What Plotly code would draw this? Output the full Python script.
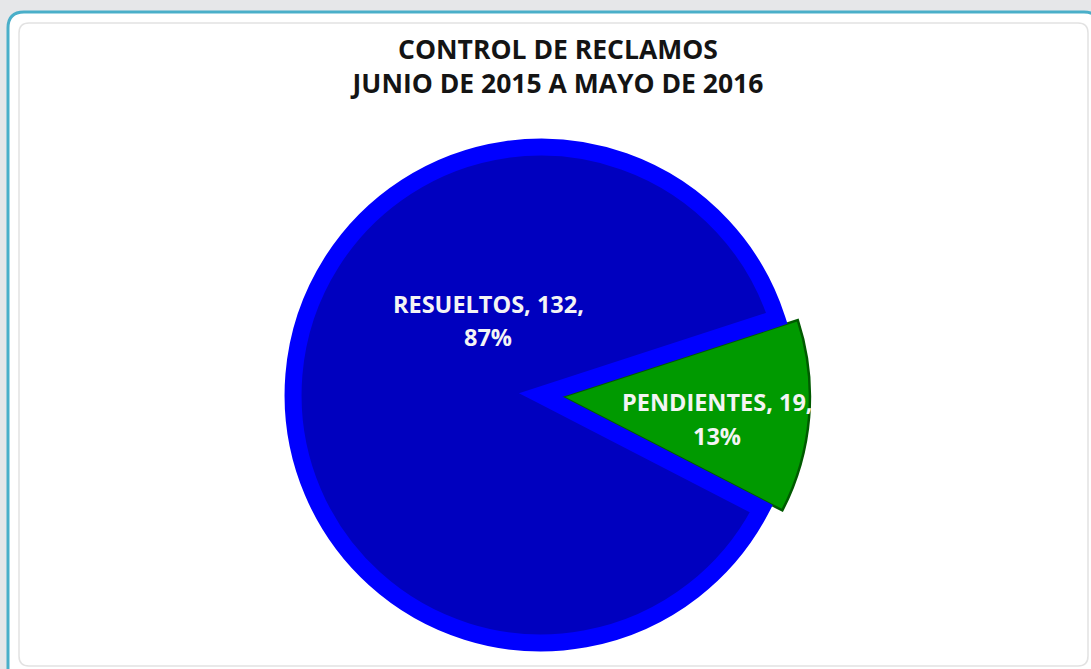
import plotly.graph_objects as go

# ---- data ----
labels = ["PENDIENTES", "RESUELTOS"]
values = [19, 132]
fill_colors = ["#009A00", "#0000BF"]
line_colors = ["#005A00", "#0000FF"]
title_lines = ["CONTROL DE RECLAMOS", "JUNIO DE 2015 A MAYO DE 2016"]

W, H = 1091, 669
total = sum(values)
pcts = [round(100 * v / total) for v in values]
label_lines = [(f"{l}, {v},", f"{p}%") for l, v, p in zip(labels, values, pcts)]


def X(px):
    return px / W


def Y(py):
    return 1 - py / H


def rounded_rect(x0, y0, x1, y1, r):
    rx, ry = r / W, r / H
    a, b, c, d = X(x0), Y(y0), X(x1), Y(y1)
    return (f"M {a+rx},{b} L {c-rx},{b} Q {c},{b} {c},{b-ry} "
            f"L {c},{d+ry} Q {c},{d} {c-rx},{d} L {a+rx},{d} "
            f"Q {a},{d} {a},{d+ry} L {a},{b-ry} Q {a},{b} {a+rx},{b} Z")


fig = go.Figure()
fig.add_trace(go.Pie(
    labels=labels,
    values=values,
    sort=False,
    direction="clockwise",
    rotation=72,
    pull=[0.085, 0],
    marker=dict(colors=fill_colors, line=dict(color=line_colors, width=[2.5, 17])),
    textinfo="none",
    hoverinfo="label+value+percent",
    showlegend=False,
    domain=dict(x=[X(541 - 300), X(541 + 300)], y=[Y(395 + 269), Y(395 - 269)]),
))

# label line centres (px) for each slice
label_pos = [((717, 402), (717, 436)), ((488, 304), (488, 337))]
label_font = dict(family="Open Sans", size=23.5, color="#F4F4F4", weight="bold")
annotations = []
for lines, positions in zip(label_lines, label_pos):
    for t, (px, py) in zip(lines, positions):
        annotations.append(dict(
            text=t, x=X(px), y=Y(py), xref="paper", yref="paper",
            showarrow=False, xanchor="center", yanchor="middle", font=label_font,
        ))

title_font = dict(family="Open Sans", size=26.5, color="#141414", weight="bold")

shapes = [
    dict(type="path", path=rounded_rect(8, 12, 1100, 690, 16), xref="paper", yref="paper",
         fillcolor="white", line=dict(color="#4AAFC9", width=3), layer="below"),
    dict(type="path", path=rounded_rect(19, 23, 1088, 666, 10), xref="paper", yref="paper",
         fillcolor="rgba(0,0,0,0)", line=dict(color="#E2E2E2", width=1.5), layer="below"),
]

fig.update_layout(
    width=W, height=H,
    margin=dict(l=0, r=0, t=0, b=0),
    paper_bgcolor="#E6E7E9",
    plot_bgcolor="white",
    title=dict(text="<br>".join(title_lines), x=X(558), xanchor="center",
               y=Y(59), yanchor="middle", yref="paper", font=title_font),
    annotations=annotations,
    shapes=shapes,
)

post = ("document.body.style.margin='0px';"
        "document.querySelectorAll('g.slice path.surface').forEach("
        "function(p){p.style.strokeLinejoin='miter';});")
fig.write_html("out.html", post_script=post, config={"displayModeBar": False})
